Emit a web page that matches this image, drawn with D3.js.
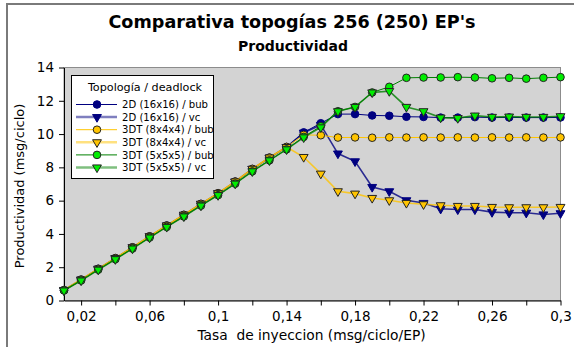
<!DOCTYPE html>
<html>
<head>
<meta charset="utf-8">
<script src="https://cdn.jsdelivr.net/npm/d3@7"></script>
<style>
  html, body { margin: 0; padding: 0; background: #ffffff; }
  svg { display: block; font-family: "DejaVu Sans", sans-serif; }
  text { white-space: pre; }
</style>
</head>
<body>
<svg id="chart" width="574" height="347"></svg>
<script>
// Injection rate (msg/ciclo/EP)
const rates = [0.01, 0.02, 0.03, 0.04, 0.05, 0.06, 0.07, 0.08, 0.09, 0.10,
               0.11, 0.12, 0.13, 0.14, 0.15, 0.16, 0.17, 0.18, 0.19, 0.20,
               0.21, 0.22, 0.23, 0.24, 0.25, 0.26, 0.27, 0.28, 0.29, 0.30];

// Throughput (msg/ciclo) per topology / deadlock handling
const mesh2dBub = [0.62, 1.25, 1.90, 2.54, 3.19, 3.85, 4.50, 5.14, 5.80, 6.44,
                   7.14, 7.90, 8.58, 9.22, 10.10, 10.65, 11.20, 11.20, 11.12, 11.10,
                   11.04, 11.03, 10.99, 10.99, 11.02, 10.99, 11.00, 10.99, 10.99, 11.00];
const mesh2dVc  = [0.62, 1.25, 1.90, 2.54, 3.19, 3.85, 4.50, 5.14, 5.80, 6.44,
                   7.14, 7.90, 8.58, 9.22, 10.08, 10.55, 8.83, 8.36, 6.82, 6.56,
                   6.02, 5.86, 5.51, 5.47, 5.47, 5.31, 5.27, 5.27, 5.17, 5.24];
const t844Bub   = [0.63, 1.26, 1.91, 2.55, 3.20, 3.86, 4.51, 5.15, 5.81, 6.45,
                   7.15, 7.91, 8.59, 9.23, 9.95, 9.93, 9.79, 9.80, 9.78, 9.80,
                   9.79, 9.80, 9.79, 9.80, 9.79, 9.80, 9.79, 9.80, 9.79, 9.80];
const t844Vc    = [0.63, 1.26, 1.91, 2.55, 3.20, 3.86, 4.51, 5.15, 5.81, 6.45,
                   7.15, 7.91, 8.59, 9.22, 8.62, 7.62, 6.56, 6.42, 6.16, 6.02,
                   5.86, 5.78, 5.72, 5.68, 5.68, 5.62, 5.60, 5.60, 5.60, 5.62];
const t555Bub   = [0.60, 1.20, 1.85, 2.48, 3.12, 3.78, 4.42, 5.05, 5.70, 6.33,
                   7.02, 7.76, 8.42, 9.08, 9.83, 10.47, 11.37, 11.63, 12.50, 12.84,
                   13.38, 13.40, 13.40, 13.42, 13.40, 13.35, 13.38, 13.33, 13.38, 13.42];
const t555Vc    = [0.60, 1.20, 1.85, 2.48, 3.12, 3.78, 4.42, 5.05, 5.70, 6.33,
                   7.02, 7.76, 8.42, 9.08, 9.80, 10.40, 11.37, 11.63, 12.50, 12.58,
                   11.63, 11.37, 10.99, 10.96, 11.11, 11.03, 11.05, 11.03, 11.03, 11.07];

const seriesNames = ["2D (16x16) / bub", "2D (16x16) / vc",
                     "3DT (8x4x4) / bub", "3DT (8x4x4) / vc",
                     "3DT (5x5x5) / bub", "3DT (5x5x5) / vc"];

const xTicks = [0.02, 0.04, 0.06, 0.08, 0.10, 0.12, 0.14, 0.16, 0.18, 0.20,
                0.22, 0.24, 0.26, 0.28, 0.30];
const xTickLabels = ["0,02", "", "0,06", "", "0,1", "", "0,14", "", "0,18", "",
                     "0,22", "", "0,26", "", "0,3"];
const yTicks = [0, 2, 4, 6, 8, 10, 12, 14];

const chartTitle = "Comparativa topogías 256 (250) EP's";
const chartSubtitle = "Productividad";
const xTitle = "Tasa  de inyeccion (msg/ciclo/EP)";
const yTitle = "Productividad (msg/ciclo)";
const legendTitle = "Topología / deadlock";

// Styling per series
const styles = [
  { line: "#000080", vc: false, shape: "circle", fill: "#000080", stroke: "#000080" },
  { line: "#000080", vc: true,  shape: "tri",    fill: "#000080", stroke: "#000080" },
  { line: "#ffc400", vc: false, shape: "circle", fill: "#ffc400", stroke: "#222222" },
  { line: "#ffc400", vc: true,  shape: "tri",    fill: "#ffc400", stroke: "#222222" },
  { line: "#008000", vc: false, shape: "circle", fill: "#00ee00", stroke: "#222222" },
  { line: "#008000", vc: true,  shape: "tri",    fill: "#00ee00", stroke: "#222222" }
];
const allValues = [mesh2dBub, mesh2dVc, t844Bub, t844Vc, t555Bub, t555Vc];

const svg = d3.select("#chart");

// Outer frame (partially visible)
svg.append("rect")
  .attr("x", 7).attr("y", 4).attr("width", 600).attr("height", 400)
  .attr("fill", "none").attr("stroke", "#7a7a7a").attr("stroke-width", 2);

const plot = { left: 64, right: 560.5, top: 67.5, bottom: 300.5 };

const x = d3.scaleLinear().domain([0.01, 0.30]).range([plot.left, plot.right]);
const y = d3.scaleLinear().domain([0, 14]).range([plot.bottom, plot.top]);

// Plot background
svg.append("rect")
  .attr("x", plot.left).attr("y", plot.top)
  .attr("width", plot.right - plot.left).attr("height", plot.bottom - plot.top)
  .attr("fill", "#d3d3d3").attr("stroke", "#8c8c8c").attr("stroke-width", 1);

// Axes
const xAxis = d3.axisBottom(x)
  .tickValues(xTicks)
  .tickSize(5)
  .tickSizeOuter(0)
  .tickFormat((d, i) => xTickLabels[i]);
const yAxis = d3.axisLeft(y)
  .tickValues(yTicks)
  .tickSize(5)
  .tickSizeOuter(0)
  .tickFormat(d3.format("d"));

const gx = svg.append("g")
  .attr("transform", `translate(0,${plot.bottom})`)
  .call(xAxis);
gx.selectAll("text").attr("font-size", 13.5).attr("fill", "#000")
  .attr("y", 20.5).attr("dy", 0).attr("font-family", "DejaVu Sans");
gx.select(".domain").attr("stroke", "#000");
gx.selectAll(".tick line").attr("stroke", "#000");

const gy = svg.append("g")
  .attr("transform", `translate(${plot.left},0)`)
  .call(yAxis);
gy.selectAll("text").attr("font-size", 13.5).attr("fill", "#000").attr("x", -10)
  .attr("font-family", "DejaVu Sans");
gy.select(".domain").attr("stroke", "#000");
gy.selectAll(".tick line").attr("stroke", "#000");

// Marker drawing helper
const triangle = d3.symbol().type(d3.symbolTriangle).size(34);
function drawMarker(g, cx, cy, st) {
  if (st.shape === "circle") {
    g.append("circle").attr("cx", cx).attr("cy", cy).attr("r", 3.8)
      .attr("fill", st.fill).attr("stroke", st.stroke).attr("stroke-width", 1);
  } else {
    g.append("path").attr("d", triangle())
      .attr("transform", `translate(${cx},${cy}) rotate(180)`)
      .attr("fill", st.fill).attr("stroke", st.stroke).attr("stroke-width", 1);
  }
}

const lineGen = d3.line().x(d => x(d[0])).y(d => y(d[1]));

allValues.forEach((vals, si) => {
  const st = styles[si];
  const pts = rates.map((r, i) => [r, vals[i]]);
  const g = svg.append("g");
  g.append("path").attr("d", lineGen(pts))
    .attr("fill", "none").attr("stroke", st.line)
    .attr("stroke-width", st.vc ? 1.6 : 1).attr("stroke-opacity", st.vc ? 0.8 : 1);
  pts.forEach(p => drawMarker(g, x(p[0]), y(p[1]), st));
});

// Legend
const lg = svg.append("g");
lg.append("rect").attr("x", 71.5).attr("y", 75.5).attr("width", 142).attr("height", 103)
  .attr("fill", "#fff").attr("stroke", "#000").attr("stroke-width", 1);
lg.append("text").attr("x", 145).attr("y", 90.7).attr("text-anchor", "middle")
  .attr("font-size", 11.2).text(legendTitle);
seriesNames.forEach((name, i) => {
  const st = styles[i];
  const ly = 104.5 + i * 12.6;
  lg.append("line").attr("x1", 76).attr("x2", 117).attr("y1", ly).attr("y2", ly)
    .attr("stroke", st.line).attr("stroke-width", st.vc ? 2.5 : 1)
    .attr("stroke-opacity", st.vc ? 0.5 : 1);
  drawMarker(lg, 97, ly, st);
  lg.append("text").attr("x", 122).attr("y", ly + 3.6).attr("font-size", 10.1).text(name);
});

// Titles
svg.append("text").attr("x", 292).attr("y", 28).attr("text-anchor", "middle")
  .attr("font-size", 17.6).attr("font-weight", "bold").text(chartTitle);
svg.append("text").attr("x", 293).attr("y", 51).attr("text-anchor", "middle")
  .attr("font-size", 14).attr("font-weight", "bold").text(chartSubtitle);
svg.append("text").attr("x", 311.5).attr("y", 339.5).attr("text-anchor", "middle")
  .attr("font-size", 13.8).text(xTitle);
svg.append("text").attr("transform", "translate(24,186) rotate(-90)")
  .attr("text-anchor", "middle").attr("font-size", 13).text(yTitle);
</script>
</body>
</html>
